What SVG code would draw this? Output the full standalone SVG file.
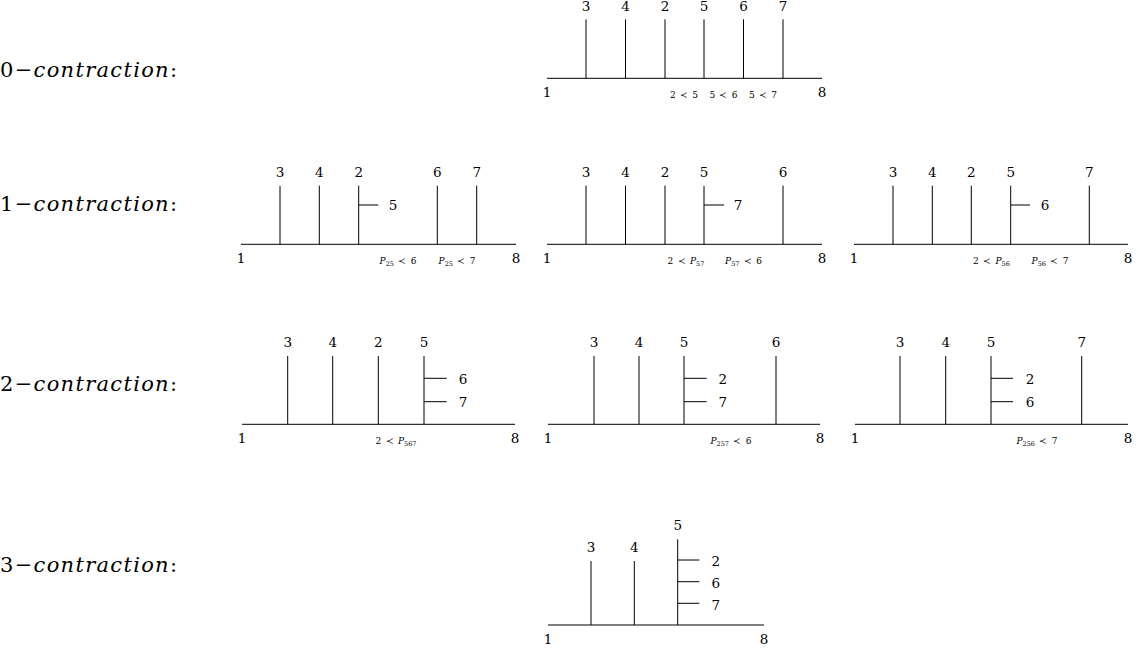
<svg xmlns="http://www.w3.org/2000/svg" width="1140" height="656" viewBox="0 0 1140 656">
<style>
text{font-family:'DejaVu Serif','Liberation Serif',serif;fill:#000}
.t{font-size:21px}
.n{font-size:13.5px;text-anchor:middle}
.s{font-size:9px;text-anchor:middle;word-spacing:1.5px}
.sub{font-size:6.5px}
line{stroke:#000;stroke-width:1}
.it{font-style:italic}
</style>
<rect width="1140" height="656" fill="#fff"/>
<g id="titles">
<text class="t" x="0" y="77" textLength="177" lengthAdjust="spacing">0−<tspan class="it">contraction</tspan>:</text>
<text class="t" x="0" y="211" textLength="177" lengthAdjust="spacing">1−<tspan class="it">contraction</tspan>:</text>
<text class="t" x="0" y="391" textLength="177" lengthAdjust="spacing">2−<tspan class="it">contraction</tspan>:</text>
<text class="t" x="0" y="572" textLength="177" lengthAdjust="spacing">3−<tspan class="it">contraction</tspan>:</text>
</g>
<g id="d0">
<line x1="547" y1="78.3" x2="822" y2="78.3"/>
<line x1="586" y1="19.3" x2="586" y2="78.3"/>
<line x1="625.5" y1="19.3" x2="625.5" y2="78.3"/>
<line x1="665" y1="19.3" x2="665" y2="78.3"/>
<line x1="704" y1="19.3" x2="704" y2="78.3"/>
<line x1="743.5" y1="19.3" x2="743.5" y2="78.3"/>
<line x1="783" y1="19.3" x2="783" y2="78.3"/>
<text class="n" x="586" y="11">3</text><text class="n" x="625.5" y="11">4</text><text class="n" x="665" y="11">2</text>
<text class="n" x="704" y="11">5</text><text class="n" x="743.5" y="11">6</text><text class="n" x="783" y="11">7</text>
<text class="n" x="547" y="97">1</text><text class="n" x="822" y="97">8</text>
<text class="s" x="684" y="97.5">2 ≺ 5</text>
<text class="s" x="723.5" y="97.5">5 ≺ 6</text>
<text class="s" x="763" y="97.5">5 ≺ 7</text>
</g>
<g id="d1a">
<line x1="241" y1="244.3" x2="516" y2="244.3"/>
<line x1="280" y1="185.7" x2="280" y2="244.3"/>
<line x1="319.3" y1="185.7" x2="319.3" y2="244.3"/>
<line x1="358.7" y1="185.7" x2="358.7" y2="244.3"/>
<line x1="437.3" y1="185.7" x2="437.3" y2="244.3"/>
<line x1="476.7" y1="185.7" x2="476.7" y2="244.3"/>
<line x1="358.7" y1="205" x2="378.3" y2="205"/>
<text class="n" x="280" y="177">3</text><text class="n" x="319.3" y="177">4</text><text class="n" x="358.7" y="177">2</text>
<text class="n" x="437.3" y="177">6</text><text class="n" x="476.7" y="177">7</text>
<text class="n" x="393" y="210">5</text>
<text class="n" x="241" y="263">1</text><text class="n" x="516" y="263">8</text>
<text class="s" x="398" y="264"><tspan class="it">P</tspan><tspan class="sub" dy="2">25</tspan><tspan dy="-2"> ≺ 6</tspan></text>
<text class="s" x="457" y="264"><tspan class="it">P</tspan><tspan class="sub" dy="2">25</tspan><tspan dy="-2"> ≺ 7</tspan></text>
</g>
<g id="d1b">
<line x1="547" y1="244.3" x2="822" y2="244.3"/>
<line x1="586" y1="185.7" x2="586" y2="244.3"/>
<line x1="625.5" y1="185.7" x2="625.5" y2="244.3"/>
<line x1="665" y1="185.7" x2="665" y2="244.3"/>
<line x1="704" y1="185.7" x2="704" y2="244.3"/>
<line x1="783" y1="185.7" x2="783" y2="244.3"/>
<line x1="704" y1="205" x2="724" y2="205"/>
<text class="n" x="586" y="177">3</text><text class="n" x="625.5" y="177">4</text><text class="n" x="665" y="177">2</text>
<text class="n" x="704" y="177">5</text><text class="n" x="783" y="177">6</text>
<text class="n" x="738" y="210">7</text>
<text class="n" x="547" y="263">1</text><text class="n" x="822" y="263">8</text>
<text class="s" x="686" y="264">2 ≺ <tspan class="it">P</tspan><tspan class="sub" dy="2">57</tspan></text>
<text class="s" x="743.5" y="264"><tspan class="it">P</tspan><tspan class="sub" dy="2">57</tspan><tspan dy="-2"> ≺ 6</tspan></text>
</g>
<g id="d1c">
<line x1="854" y1="244.3" x2="1128" y2="244.3"/>
<line x1="893" y1="185.7" x2="893" y2="244.3"/>
<line x1="932.3" y1="185.7" x2="932.3" y2="244.3"/>
<line x1="971.3" y1="185.7" x2="971.3" y2="244.3"/>
<line x1="1010.7" y1="185.7" x2="1010.7" y2="244.3"/>
<line x1="1089.3" y1="185.7" x2="1089.3" y2="244.3"/>
<line x1="1010.7" y1="205" x2="1030" y2="205"/>
<text class="n" x="893" y="177">3</text><text class="n" x="932.3" y="177">4</text><text class="n" x="971.3" y="177">2</text>
<text class="n" x="1010.7" y="177">5</text><text class="n" x="1089.3" y="177">7</text>
<text class="n" x="1045" y="210">6</text>
<text class="n" x="854" y="263">1</text><text class="n" x="1128" y="263">8</text>
<text class="s" x="991.5" y="264">2 ≺ <tspan class="it">P</tspan><tspan class="sub" dy="2">56</tspan></text>
<text class="s" x="1050" y="264"><tspan class="it">P</tspan><tspan class="sub" dy="2">56</tspan><tspan dy="-2"> ≺ 7</tspan></text>
</g>
<g id="d2a">
<line x1="242" y1="424.3" x2="515" y2="424.3"/>
<line x1="287.7" y1="356" x2="287.7" y2="424.3"/>
<line x1="332.7" y1="356" x2="332.7" y2="424.3"/>
<line x1="378.3" y1="356" x2="378.3" y2="424.3"/>
<line x1="424" y1="356" x2="424" y2="424.3"/>
<line x1="424" y1="378.3" x2="446.7" y2="378.3"/>
<line x1="424" y1="401.7" x2="446.7" y2="401.7"/>
<text class="n" x="287.7" y="347">3</text><text class="n" x="332.7" y="347">4</text><text class="n" x="378.3" y="347">2</text><text class="n" x="424" y="347">5</text>
<text class="n" x="463" y="384">6</text><text class="n" x="463" y="407">7</text>
<text class="n" x="242" y="443">1</text><text class="n" x="515" y="443">8</text>
<text class="s" x="396" y="444">2 ≺ <tspan class="it">P</tspan><tspan class="sub" dy="2">567</tspan></text>
</g>
<g id="d2b">
<line x1="548" y1="424.3" x2="820" y2="424.3"/>
<line x1="594" y1="356" x2="594" y2="424.3"/>
<line x1="639" y1="356" x2="639" y2="424.3"/>
<line x1="684" y1="356" x2="684" y2="424.3"/>
<line x1="776" y1="356" x2="776" y2="424.3"/>
<line x1="684" y1="378.3" x2="706.7" y2="378.3"/>
<line x1="684" y1="401.7" x2="706.7" y2="401.7"/>
<text class="n" x="594" y="347">3</text><text class="n" x="639" y="347">4</text><text class="n" x="684" y="347">5</text><text class="n" x="776" y="347">6</text>
<text class="n" x="722.7" y="384">2</text><text class="n" x="722.7" y="407">7</text>
<text class="n" x="548" y="443">1</text><text class="n" x="820" y="443">8</text>
<text class="s" x="731" y="444"><tspan class="it">P</tspan><tspan class="sub" dy="2">257</tspan><tspan dy="-2"> ≺ 6</tspan></text>
</g>
<g id="d2c">
<line x1="855" y1="424.3" x2="1128" y2="424.3"/>
<line x1="900" y1="356" x2="900" y2="424.3"/>
<line x1="945.7" y1="356" x2="945.7" y2="424.3"/>
<line x1="991" y1="356" x2="991" y2="424.3"/>
<line x1="1081.7" y1="356" x2="1081.7" y2="424.3"/>
<line x1="991" y1="378.3" x2="1013" y2="378.3"/>
<line x1="991" y1="401.7" x2="1013" y2="401.7"/>
<text class="n" x="900" y="347">3</text><text class="n" x="945.7" y="347">4</text><text class="n" x="991" y="347">5</text><text class="n" x="1081.7" y="347">7</text>
<text class="n" x="1030" y="384">2</text><text class="n" x="1030" y="407">6</text>
<text class="n" x="855" y="443">1</text><text class="n" x="1128" y="443">8</text>
<text class="s" x="1037" y="444"><tspan class="it">P</tspan><tspan class="sub" dy="2">256</tspan><tspan dy="-2"> ≺ 7</tspan></text>
</g>
<g id="d3">
<line x1="548" y1="625" x2="764" y2="625"/>
<line x1="591" y1="561" x2="591" y2="625"/>
<line x1="634.3" y1="561" x2="634.3" y2="625"/>
<line x1="677.7" y1="539.3" x2="677.7" y2="625"/>
<line x1="677.7" y1="560" x2="699.3" y2="560"/>
<line x1="677.7" y1="581.7" x2="699.3" y2="581.7"/>
<line x1="677.7" y1="603.3" x2="699.3" y2="603.3"/>
<text class="n" x="591" y="552">3</text><text class="n" x="634.3" y="552">4</text><text class="n" x="677.7" y="530">5</text>
<text class="n" x="715.7" y="566">2</text><text class="n" x="715.7" y="588">6</text><text class="n" x="715.7" y="610">7</text>
<text class="n" x="548" y="644">1</text><text class="n" x="764" y="644">8</text>
</g>
</svg>
